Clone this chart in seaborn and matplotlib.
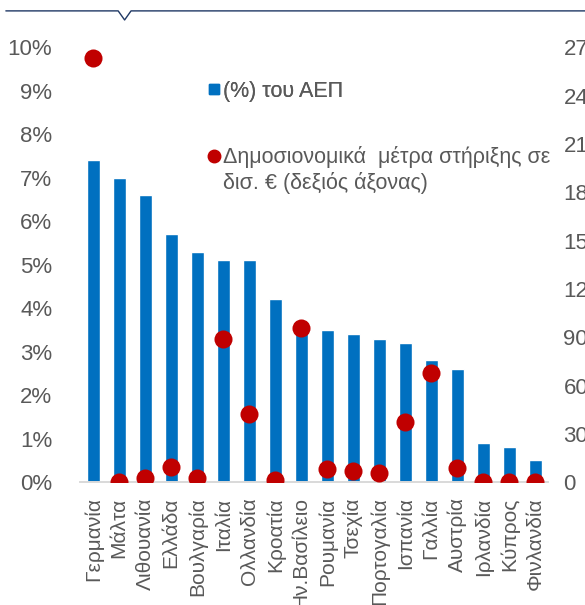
import matplotlib
matplotlib.use("Agg")
import matplotlib.pyplot as plt
import seaborn as sns
import pandas as pd
from matplotlib.lines import Line2D
from matplotlib.ticker import FuncFormatter

countries = ["Γερμανία", "Μάλτα", "Λιθουανία", "Ελλάδα", "Βουλγαρία", "Ιταλία",
             "Ολλανδία", "Κροατία", "Ην.Βασίλειο", "Ρουμανία", "Τσεχία",
             "Πορτογαλία", "Ισπανία", "Γαλλία", "Αυστρία", "Ιρλανδία",
             "Κύπρος", "Φινλανδία"]
gdp_pct = [7.4, 7.0, 6.6, 5.7, 5.3, 5.1, 5.1, 4.2, 3.5, 3.5, 3.4, 3.3, 3.2,
           2.8, 2.6, 0.9, 0.8, 0.5]
support_bn = [263, 0.3, 2.3, 9.5, 2.3, 89, 42.6, 1.2, 96, 7.9, 6.8, 6.0, 37.2,
              68, 9.1, 0.3, 0.1, 0.3]

left_ticks = list(range(0, 11))
right_ticks = list(range(0, 271, 30))

bar_color = "#0070C0"
dot_color = "#C00000"
text_color = "#595959"

df = pd.DataFrame({"country": countries, "gdp": gdp_pct, "support": support_bn})

sns.set_style("white")
plt.rcParams["font.family"] = ["Liberation Sans", "DejaVu Sans"]

fig = plt.figure(figsize=(5.85, 6.05), dpi=100)
ax = fig.add_axes([0.137, 0.203, 0.800, 0.719])

sns.barplot(data=df, x="country", y="gdp", color=bar_color, width=0.5,
            saturation=1, ax=ax)
ax.set_ylim(0, 10)
ax.set_yticks(left_ticks)
ax.yaxis.set_major_formatter(FuncFormatter(lambda v, p: f"{v:.0f}%"))
ax.set_xlabel("")
ax.set_ylabel("")

ax2 = ax.twinx()
sns.stripplot(data=df, x="country", y="support", jitter=False, size=13,
              color=dot_color, linewidth=0, ax=ax2, zorder=5)
ax2.set_ylim(0, 270)
ax2.set_yticks(right_ticks)
ax2.set_ylabel("")
ax2.set_xlim(ax.get_xlim())

for a in (ax, ax2):
    for s in ("top", "left", "right"):
        a.spines[s].set_visible(False)
    a.spines["bottom"].set_color("#D9D9D9")
    a.spines["bottom"].set_linewidth(1.2)
    a.tick_params(length=0, colors=text_color, labelsize=16)

ax.tick_params(axis="y", pad=20)
ax2.tick_params(axis="y", pad=11)
ax.tick_params(axis="x", labelsize=15, pad=11)
for lbl in ax.get_xticklabels():
    lbl.set_rotation(90)
    lbl.set_va("top")
    lbl.set_ha("center")

leg1 = fig.legend([Line2D([], [], marker="s", linestyle="none", color=bar_color,
                          markersize=7)],
                  ["(%) του ΑΕΠ"], loc="center left",
                  bbox_to_anchor=(0.355, 0.849), frameon=False, fontsize=15.5,
                  handlelength=0.6, handletextpad=0.12, borderpad=0,
                  borderaxespad=0)
leg2 = fig.legend([Line2D([], [], marker="o", linestyle="none", color=dot_color,
                          markersize=9),
                   Line2D([], [], linestyle="none")],
                  ["Δημοσιονομικά  μέτρα στήριξης σε", "δισ. € (δεξιός άξονας)"],
                  loc="center left", bbox_to_anchor=(0.355, 0.719),
                  frameon=False, fontsize=15.5, handlelength=0.6,
                  handletextpad=0.12, labelspacing=0.15, borderpad=0,
                  borderaxespad=0)
fig.add_artist(leg1)
for leg in (leg1, leg2):
    for t in leg.get_texts():
        t.set_color(text_color)

# header rule with small notch
fig.add_artist(Line2D([0.01, 0.202, 0.213, 0.224, 1.0],
                      [0.982, 0.982, 0.967, 0.982, 0.982],
                      transform=fig.transFigure, color="#1F3864", linewidth=1.0))

fig.savefig("out.png", dpi=100)
